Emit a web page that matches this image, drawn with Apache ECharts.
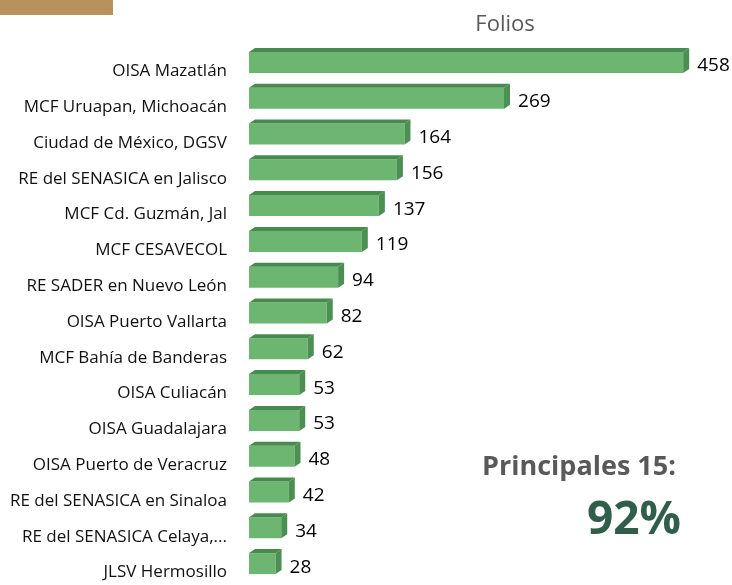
<!DOCTYPE html>
<html>
<head>
<meta charset="UTF-8">
<script src="https://cdn.jsdelivr.net/npm/echarts@6/dist/echarts.min.js"></script>
<style>
  html, body { margin: 0; padding: 0; background: #fff; }
  #chart { width: 732px; height: 585px; }
</style>
</head>
<body>
<div id="chart"></div>
<script>
// Datos: folios por oficina (de arriba hacia abajo)
const categories = [
  'OISA Mazatlán', 'MCF Uruapan, Michoacán', 'Ciudad de México, DGSV',
  'RE del SENASICA en Jalisco', 'MCF Cd. Guzmán, Jal', 'MCF CESAVECOL',
  'RE SADER en Nuevo León', 'OISA Puerto Vallarta', 'MCF Bahía de Banderas',
  'OISA Culiacán', 'OISA Guadalajara', 'OISA Puerto de Veracruz',
  'RE del SENASICA en Sinaloa', 'RE del SENASICA Celaya,...', 'JLSV Hermosillo'
];
const folios = [458, 269, 164, 156, 137, 119, 94, 82, 62, 53, 53, 48, 42, 34, 28];
const seriesName = 'Folios';
const summaryLabel = 'Principales 15:';
const summaryValue = '92%';

const FRONT = '#6db671';
const TOP = '#468a4d';
const SIDE = '#4c8f53';

const chart = echarts.init(document.getElementById('chart'));

const option = {
  backgroundColor: '#fff',
  animation: false,
  title: {
    text: seriesName,
    left: 500,
    top: 9,
    textAlign: 'center',
    textStyle: { fontFamily: 'Open Sans', fontSize: 22, fontWeight: 'normal', color: '#595959' }
  },
  grid: { left: 249, right: 9, top: 48, height: 545 },
  xAxis: {
    type: 'value',
    min: 0,
    max: 500,
    show: false
  },
  yAxis: {
    type: 'category',
    data: categories,
    inverse: true,
    axisLine: { show: false },
    axisTick: { show: false },
    splitLine: { show: false },
    axisLabel: {
      margin: 22,
      fontFamily: 'Open Sans',
      fontSize: 17,
      color: '#111',
      verticalAlign: 'top',
      lineHeight: 11
    }
  },
  graphic: [
    { type: 'rect', left: 0, top: 0, shape: { width: 113, height: 15 }, style: { fill: '#b8925c' } },
    {
      type: 'text', left: 482, top: 454,
      style: { text: summaryLabel, fontFamily: 'Open Sans', fontSize: 27, fontWeight: 'bold', fill: '#595959' }
    },
    {
      type: 'text', left: 587, top: 498,
      style: { text: summaryValue, fontFamily: 'Open Sans', fontSize: 46, fontWeight: 'bold', fill: '#2f5f4b' }
    }
  ],
  series: [{
    type: 'custom',
    name: seriesName,
    data: folios.map((v, i) => [v, i]),
    encode: { x: 0, y: 1 },
    renderItem: function (params, api) {
      const v = api.value(0);
      const idx = api.value(1);
      const p0 = api.coord([0, idx]);
      const p1 = api.coord([v, idx]);
      const x0 = p0[0], x1 = p1[0], c = p0[1];
      const top = c - 14, bot = c + 7, dx = 6, dy = 4;
      return {
        type: 'group',
        children: [
          { type: 'rect', shape: { x: x0, y: top, width: x1 - x0, height: bot - top }, style: { fill: FRONT } },
          { type: 'polygon', shape: { points: [[x0, top], [x0 + dx, top - dy], [x1 + dx, top - dy], [x1, top]] }, style: { fill: TOP } },
          { type: 'polygon', shape: { points: [[x1, top], [x1 + dx, top - dy], [x1 + dx, bot - dy], [x1, bot]] }, style: { fill: SIDE } },
          {
            type: 'text',
            style: {
              text: String(v), x: x1 + dx + 8, y: c, verticalAlign: 'middle', align: 'left',
              fontFamily: 'Open Sans', fontSize: 19, fill: '#000'
            }
          }
        ]
      };
    }
  }]
};

chart.setOption(option);
</script>
</body>
</html>
